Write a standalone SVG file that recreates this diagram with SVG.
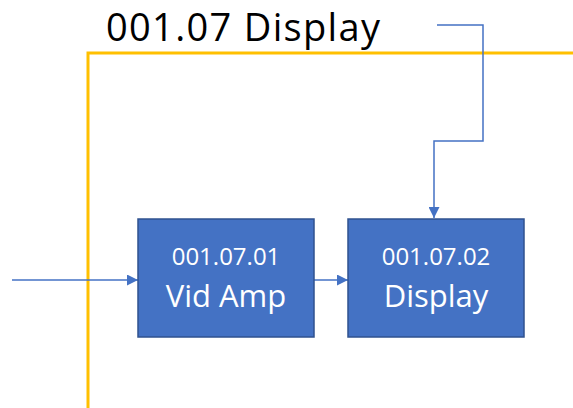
<svg xmlns="http://www.w3.org/2000/svg" width="573" height="408" viewBox="0 0 573 408">
<defs>
<marker id="ah" viewBox="0 0 10 10" refX="10" refY="5" markerWidth="12" markerHeight="11" orient="auto" markerUnits="userSpaceOnUse">
<path d="M0,0 L10,5 L0,10 z" fill="#4472C4"/>
</marker>
<style>
.box{fill:#4472C4;stroke:#2F528F;stroke-width:1.5}
.t1{font-family:"Open Sans","Noto Sans",sans-serif;font-size:24px;fill:#FFFFFF;text-anchor:middle}
.t2{font-family:"Open Sans","Noto Sans",sans-serif;font-size:31px;fill:#FFFFFF;text-anchor:middle}
.conn{fill:none;stroke:#4472C4;stroke-width:1.5}
</style>
</defs>
<rect width="573" height="408" fill="#FFFFFF"/>
<g id="frame">
<path d="M88,408 L88,53 L573,53" fill="none" stroke="#FFC000" stroke-width="3"/>
<text x="106" y="41" font-family="'Open Sans','Noto Sans',sans-serif" font-size="38" fill="#000000" textLength="274" lengthAdjust="spacing">001.07 Display</text>
</g>
<g id="connectors">
<path d="M437,25 L483,25 L483,141 L434,141 L434,218" class="conn" marker-end="url(#ah)"/>
<path d="M12,280 L138,280" class="conn" marker-end="url(#ah)"/>
<path d="M314,280 L348,280" class="conn" marker-end="url(#ah)"/>
</g>
<g id="node1">
<rect class="box" x="138" y="219" width="176" height="118"/>
<text class="t1" x="226" y="265">001.07.01</text>
<text class="t2" x="226" y="307">Vid Amp</text>
</g>
<g id="node2">
<rect class="box" x="348" y="219" width="176" height="118"/>
<text class="t1" x="436" y="265">001.07.02</text>
<text class="t2" x="436" y="307">Display</text>
</g>
</svg>
